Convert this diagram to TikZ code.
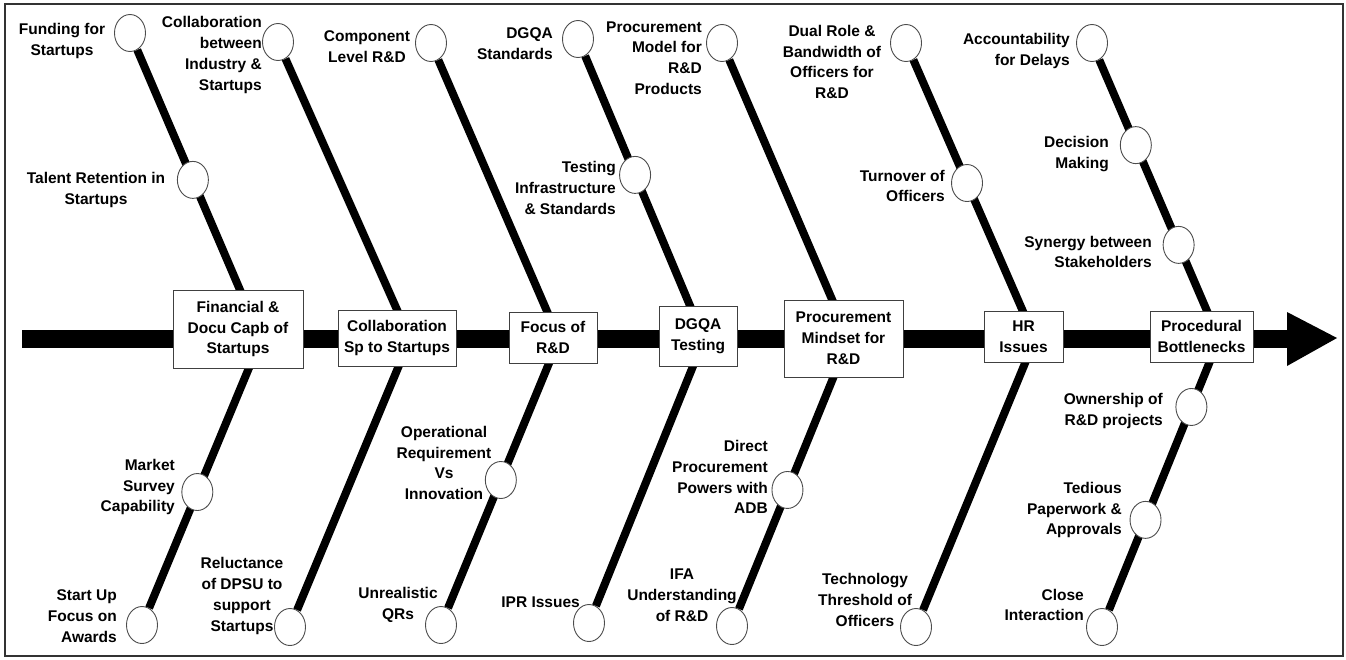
\documentclass[tikz,border=0pt]{standalone}
\usepackage{fontspec}
\setmainfont{Liberation Sans}
\usetikzlibrary{shapes.geometric,calc,backgrounds}
\begin{document}
\begin{tikzpicture}[x=1pt,y=-1pt,
  txt/.style={font=\fontsize{15.5}{20.8}\selectfont\bfseries},
  lbl/.style={txt,inner sep=0pt},
  lblr/.style={lbl,align=right,anchor=east},
  lblc/.style={lbl,align=center},
  boxst/.style={txt,draw=black!75,line width=1pt,fill=white,inner sep=0pt,align=center},
  circ/.style={ellipse,draw=black!70,line width=0.9pt,fill=white,minimum width=31pt,minimum height=37pt,inner sep=0pt},
  bone/.style={line width=8pt,black},
  spine/.style={line width=18pt,black}]
\useasboundingbox (0,0) rectangle (1346,659);

% apexes of the bones on the spine
\coordinate (A1) at (261,339);
\coordinate (A2) at (410,339);
\coordinate (A3) at (559,339);
\coordinate (A4) at (704,339);
\coordinate (A5) at (849,339);
\coordinate (A6) at (1035,339);
\coordinate (A7) at (1219,339);

% circles (top ends, bottom ends, middle points)
\node[circ] (T1) at (130,33) {};
\node[circ] (B1) at (142,625) {};
\node[circ] (T1a) at ($(T1)!0.48!(A1)$) {};
\node[circ] (B1a) at ($(A1)!0.535!(B1)$) {};

\node[circ] (T2) at (278,42) {};
\node[circ] (B2) at (290,627) {};

\node[circ] (T3) at (431,43) {};
\node[circ] (B3) at (441,625) {};
\node[circ] (B3a) at ($(A3)!0.493!(B3)$) {};

\node[circ] (T4) at (578,39) {};
\node[circ] (B4) at (589,623) {};
\node[circ] (T4a) at ($(T4)!0.453!(A4)$) {};

\node[circ] (T5) at (722,43) {};
\node[circ] (B5) at (732,626) {};
\node[circ] (B5a) at ($(A5)!0.526!(B5)$) {};

\node[circ] (T6) at (906,43) {};
\node[circ] (B6) at (916,627) {};
\node[circ] (T6a) at ($(T6)!0.473!(A6)$) {};

\node[circ] (T7) at (1092,43) {};
\node[circ] (B7) at (1102,627) {};
\node[circ] (T7a) at ($(T7)!0.345!(A7)$) {};
\node[circ] (T7b) at ($(T7)!0.682!(A7)$) {};
\node[circ] (B7a) at ($(A7)!0.236!(B7)$) {};
\node[circ] (B7b) at ($(A7)!0.628!(B7)$) {};

% category boxes
\node[boxst,minimum width=130pt,minimum height=78pt] (C1) at (238,329) {Financial \&\\Docu Capb of\\Startups};
\node[boxst,minimum width=118pt,minimum height=56pt] (C2) at (397,338) {Collaboration\\Sp to Startups};
\node[boxst,minimum width=88pt,minimum height=51pt] (C3) at (553,337.5) {Focus of\\R\&D};
\node[boxst,minimum width=78pt,minimum height=60pt] (C4) at (698,336) {DGQA\\Testing};
\node[boxst,minimum width=119pt,minimum height=77pt] (C5) at (843.5,338.5) {Procurement\\Mindset for\\R\&D};
\node[boxst,minimum width=79pt,minimum height=51pt] (C6) at (1023.5,336.5) {HR\\Issues};
\node[boxst,minimum width=103pt,minimum height=51pt] (C7) at (1201.5,336.5) {Procedural\\Bottlenecks};

% labels
\node[lblc] (l1) at (62,41) {Funding for\\Startups};
\node[lblc] (l2) at (96,190) {Talent Retention in\\Startups};
\node[lblr] (l3) at (175,487) {Market\\Survey\\Capability};
\node[lblr] (l4) at (117,616) {Start Up\\Focus on\\Awards};
\node[lblr] (l5) at (262,55) {Collaboration\\between\\Industry \&\\Startups};
\node[lblc] (l6) at (242,596) {Reluctance\\of DPSU to\\support\\Startups};
\node[lblc] (l7) at (367,47) {Component\\Level R\&D};
\node[lblc] (l8) at (444,463) {Operational\\Requirement\\Vs\\Innovation};
\node[lblc] (l9) at (398,605) {Unrealistic\\QRs};
\node[lblr] (l10) at (553,44) {DGQA\\Standards};
\node[lblr] (l11) at (616,188) {Testing\\Infrastructure\\\& Standards};
\node[lblr] (l12) at (580,602) {IPR Issues};
\node[lblr] (l13) at (702,58) {Procurement\\Model for\\R\&D\\Products};
\node[lblr] (l14) at (768,477) {Direct\\Procurement\\Powers with\\ADB};
\node[lblc] (l15) at (682,595) {IFA\\Understanding\\of R\&D};
\node[lblc] (l16) at (832,62) {Dual Role \&\\Bandwidth of\\Officers for\\R\&D};
\node[lblr] (l17) at (945,186) {Turnover of\\Officers};
\node[lblc] (l18) at (865,600) {Technology\\Threshold of\\Officers};
\node[lblr] (l19) at (1070,51) {Accountability\\for Delays};
\node[lblr] (l20) at (1109,154) {Decision\\Making};
\node[lblr] (l21) at (1152,252) {Synergy between\\Stakeholders};
\node[lblr] (l22) at (1163,411) {Ownership of\\R\&D projects};
\node[lblr] (l23) at (1122,510) {Tedious\\Paperwork \&\\Approvals};
\node[lblr] (l24) at (1084,605) {Close\\Interaction};

% spine
\coordinate (tail) at (22,339);
\coordinate (base) at (1287,339);
\coordinate (head) at (1337,338);

\begin{pgfonlayer}{background}
  \draw[black!80,line width=1.5pt] (5,4) rectangle (1343,656);
  \draw[spine] (tail) -- (base);
  \fill[black] ($(base)+(0,-27)$) -- (head) -- ($(base)+(0,27)$) -- cycle;
  \draw[bone] (T1) -- (A1) -- (B1);
  \draw[bone] (T2) -- (A2) -- (B2);
  \draw[bone] (T3) -- (A3) -- (B3);
  \draw[bone] (T4) -- (A4) -- (B4);
  \draw[bone] (T5) -- (A5) -- (B5);
  \draw[bone] (T6) -- (A6) -- (B6);
  \draw[bone] (T7) -- (A7) -- (B7);
\end{pgfonlayer}
\end{tikzpicture}
\end{document}
